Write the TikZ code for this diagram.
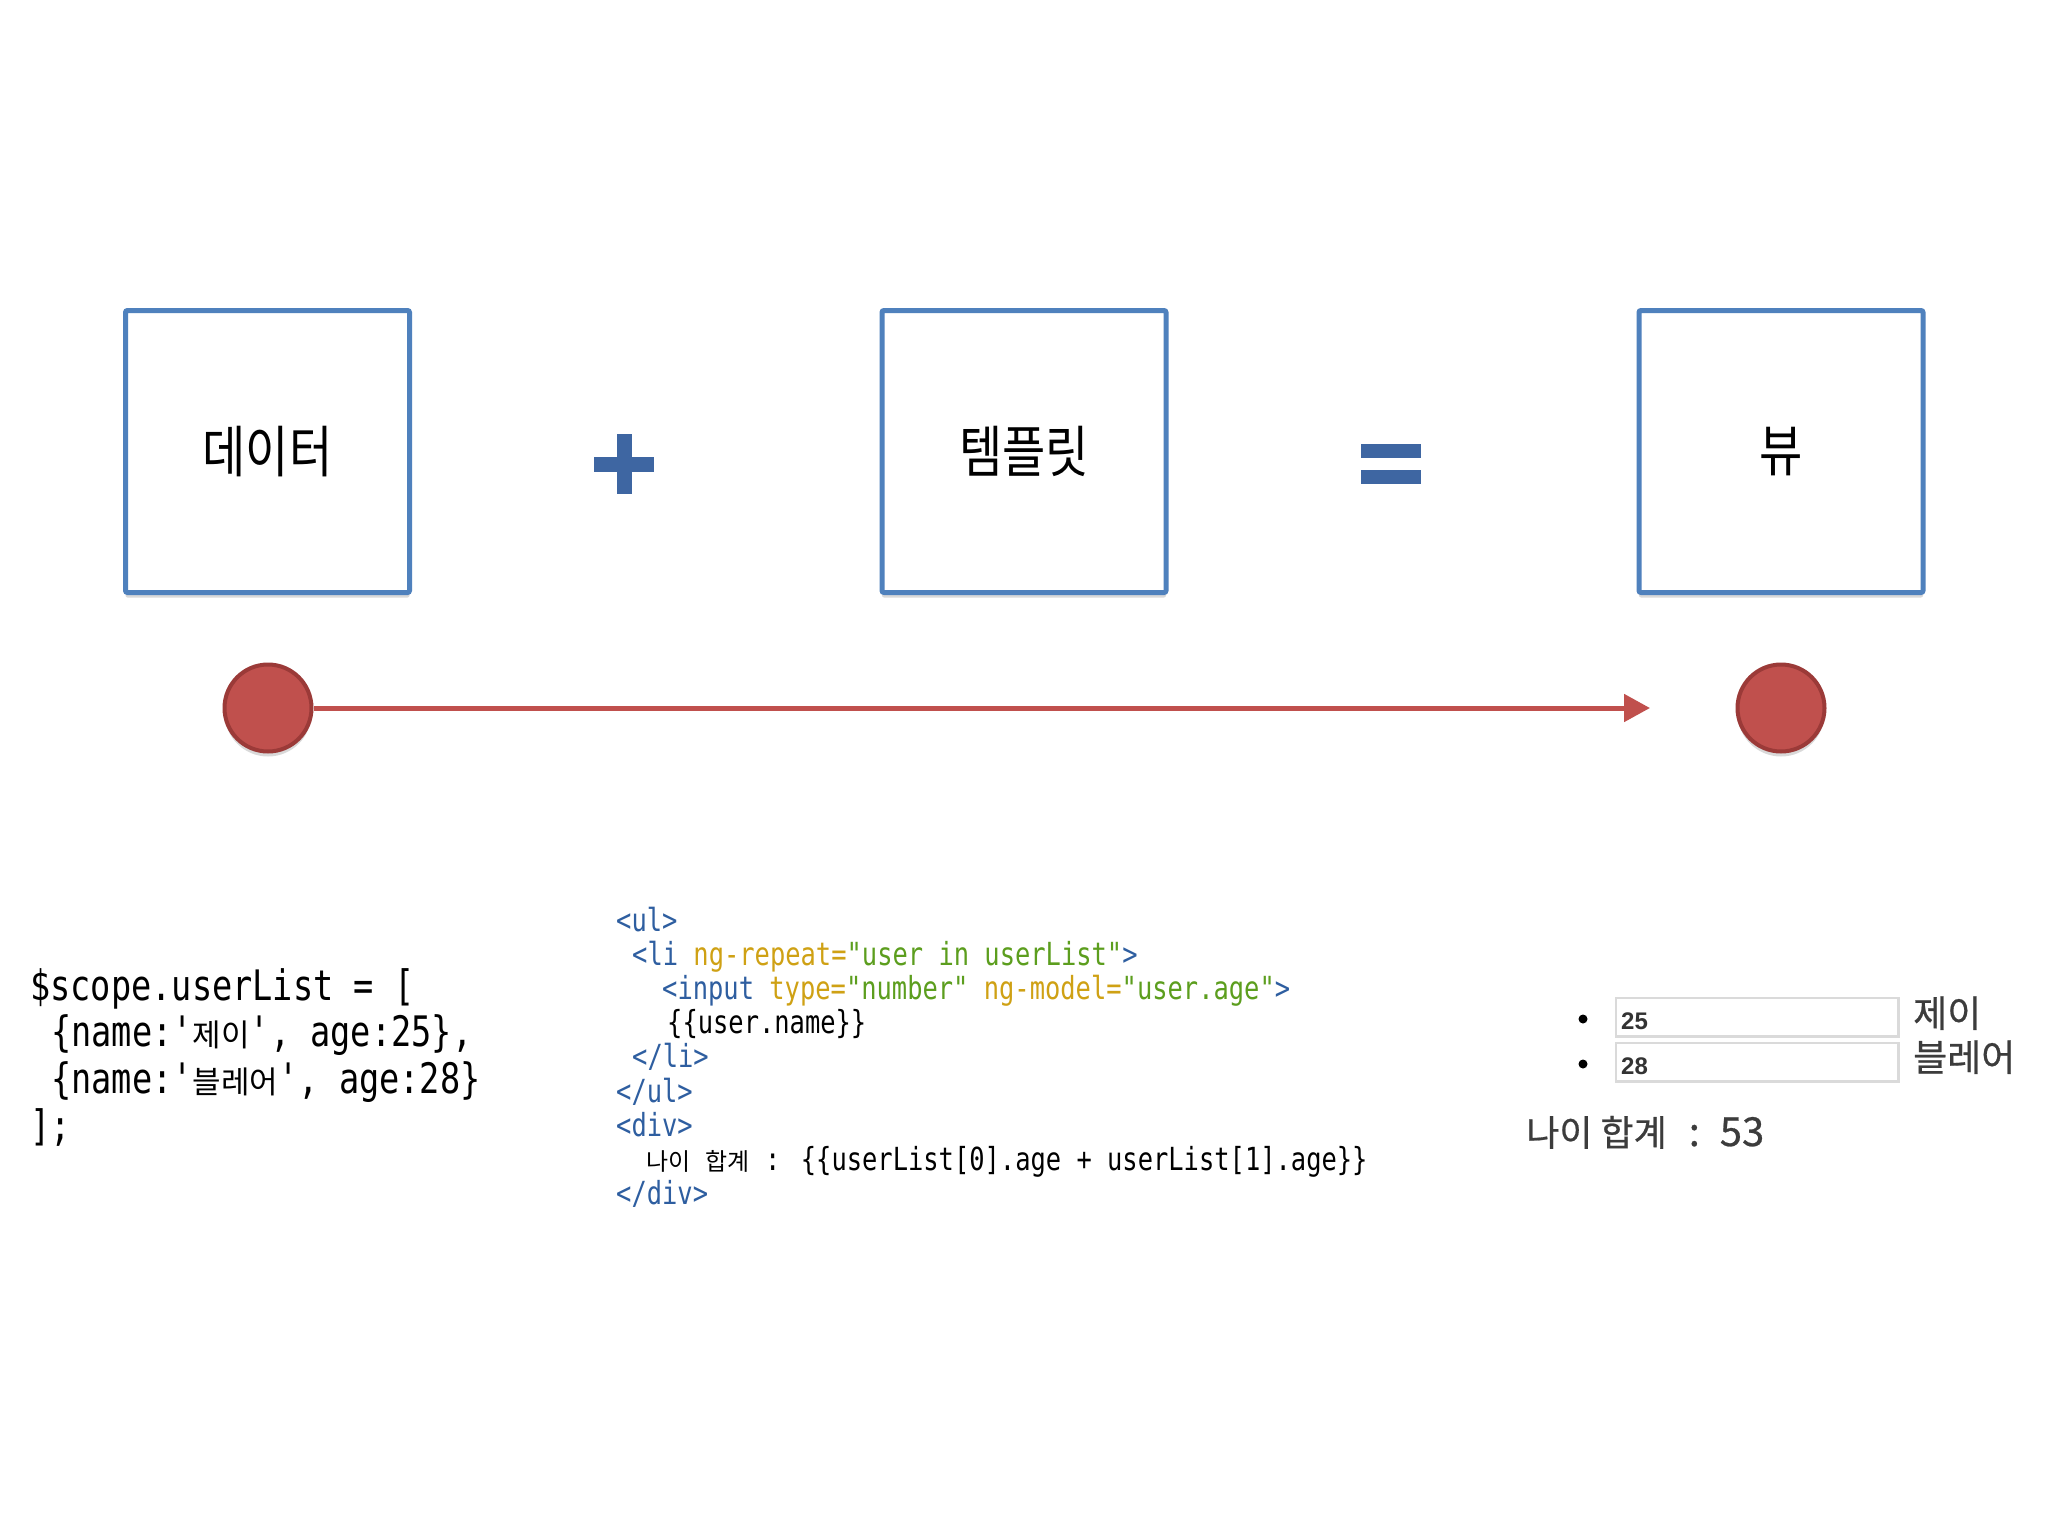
\documentclass[tikz,border=0pt]{standalone}
\usepackage{fontspec}
\usetikzlibrary{arrows.meta,shadows}
\newfontfamily\kr{Noto Sans CJK KR}
\newfontfamily\krout[FakeBold=0.6]{Noto Sans CJK KR}
\newfontfamily\krlab[FakeStretch=0.84]{Noto Sans CJK KR}
\newfontfamily\codefont[FakeStretch=0.8]{DejaVu Sans Mono}
\newfontfamily\numfont{Liberation Sans}
\definecolor{boxblue}{RGB}{79,129,189}
\definecolor{signblue}{RGB}{62,102,162}
\definecolor{dotred}{RGB}{192,80,77}
\definecolor{dotedge}{RGB}{155,58,56}
\definecolor{tagblue}{RGB}{46,94,160}
\definecolor{attryel}{RGB}{207,161,20}
\definecolor{strgreen}{RGB}{92,158,30}
\definecolor{outgray}{RGB}{60,60,60}
\definecolor{inedge}{RGB}{218,218,218}
\newcommand{\tg}[1]{\textcolor{tagblue}{#1}}
\newcommand{\at}[1]{\textcolor{attryel}{#1}}
\newcommand{\st}[1]{\textcolor{strgreen}{#1}}
\newcommand{\krs}[1]{{\kr\fontsize{24}{28}\selectfont #1}}
\newcommand{\krl}[1]{{\kr\fontsize{31}{36}\selectfont #1}}
\newcommand{\sq}{\symbol{39}}
\begin{document}
\begin{tikzpicture}[x=1pt,y=-1pt,
  bigbox/.style={draw=boxblue, line width=5pt, fill=white, rounded corners=2pt,
    minimum width=284pt, minimum height=282pt, inner sep=0pt,
    font=\krlab\fontsize{56}{62}\selectfont,
    drop shadow={fill=black, opacity=0.15, shadow xshift=0pt, shadow yshift=-5pt}},
  dot/.style={circle, fill=dotred, draw=dotedge, line width=4pt, minimum size=87pt, inner sep=0pt,
    drop shadow={fill=black, opacity=0.15, shadow xshift=0pt, shadow yshift=-5pt}},
  codeL/.style={anchor=base west, inner sep=0pt, font=\codefont\fontsize{42}{46}\selectfont},
  codeM/.style={anchor=base west, inner sep=0pt, font=\codefont\fontsize{31.8}{36}\selectfont},
  inbox/.style={draw=inedge, line width=2.5pt, fill=white, minimum width=282.5pt, minimum height=38.5pt, inner sep=0pt},
  numtxt/.style={anchor=base west, inner sep=0pt, text=black!80, font=\numfont\bfseries\fontsize{24}{28}\selectfont},
  outtxt/.style={anchor=base west, inner sep=0pt, text=outgray, font=\krout\fontsize{37}{42}\selectfont},
  bullet/.style={circle, fill=black, minimum size=9pt, inner sep=0pt}
]
\fill[white] (0,0) rectangle (2048,1536);
\useasboundingbox (0,0) rectangle (2048,1536);

% top row
\node[bigbox] (data) at (267.5,451.5) {데이터};
\node[bigbox] (tmpl) at (1024,451.5) {템플릿};
\node[bigbox] (view) at (1781,451.5) {뷰};

% plus
\fill[signblue] (594,457) rectangle (654,472);
\fill[signblue] (617,434) rectangle (632,494);
% equals
\fill[signblue] (1361,444) rectangle (1421,458);
\fill[signblue] (1361,470) rectangle (1421,484);

% timeline
\coordinate (tip) at (1650,708);
\node[dot] (d1) at (268,708) {};
\node[dot] (d2) at (1781,708) {};
\draw[line width=5pt, dotred, -{Triangle[length=26pt,width=27pt]}] (d1.east) -- (tip);

% left code
\node[codeL] (l1) at (30,1000) {\$scope.userList = [};
\node[codeL] (l2) at (51,1046.7) {\{name:\sq\krl{제이}\sq, age:25\},};
\node[codeL] (l3) at (51,1093.4) {\{name:\sq\krl{블레어}\sq, age:28\}};
\node[codeL] (l4) at (30,1140) {];};

% middle code
\node[codeM] (m1) at (616,931) {\tg{<ul>}};
\node[codeM] (m2) at (632,965) {\tg{<li} \at{ng-repeat=}\st{"user in userList"}\tg{>}};
\node[codeM] (m3) at (662,999) {\tg{<input} \at{type=}\st{"number"} \at{ng-model=}\st{"user.age"}\tg{>}};
\node[codeM] (m4) at (667,1033) {\{\{user.name\}\}};
\node[codeM] (m5) at (632,1067) {\tg{</li>}};
\node[codeM] (m6) at (616,1102) {\tg{</ul>}};
\node[codeM] (m7) at (616,1136) {\tg{<div>}};
\node[codeM] (m8) at (646,1170) {\krs{나이} \krs{합계} : \{\{userList[0].age + userList[1].age\}\}};
\node[codeM] (m9) at (616,1204) {\tg{</div>}};

% rendered view
\node[bullet] (b1) at (1583,1019) {};
\node[bullet] (b2) at (1583,1064) {};
\node[inbox] (in1) at (1757,1017) {};
\node[inbox] (in2) at (1757,1062) {};
\node[numtxt] (n1) at (1621,1029) {25};
\node[numtxt] (n2) at (1621,1074) {28};
\node[outtxt] (o1) at (1913,1027) {제이};
\node[outtxt] (o2) at (1913,1071) {블레어};
\node[outtxt, font=\krout\fontsize{36}{40}\selectfont] (sum) at (1526,1146)
  {나이 합계\hspace{22pt}{\fontsize{40}{42}\selectfont :\hspace{20pt}53}};
\end{tikzpicture}
\end{document}
